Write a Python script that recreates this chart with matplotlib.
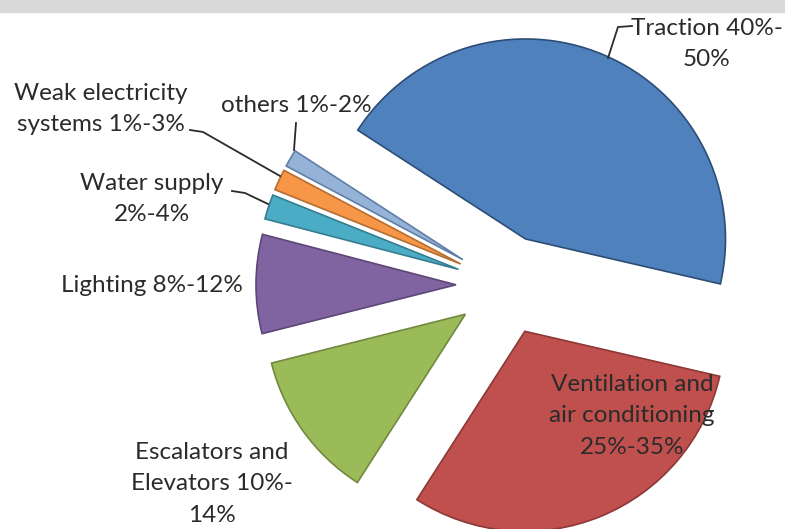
import matplotlib
matplotlib.use('Agg')
import matplotlib.pyplot as plt
from matplotlib.patches import Rectangle

labels = ['Traction 40%-\n50%', 'others 1%-2%', 'Weak electricity\nsystems 1%-3%',
          'Water supply\n2%-4%', 'Lighting 8%-12%', 'Escalators and\nElevators 10%-\n14%',
          'Ventilation and\nair conditioning\n25%-35%']
shares = [44.5, 1.4, 1.7, 2, 8, 12, 30.5]
colors = ['#4F81BD', '#95B3D7', '#F79646', '#4BACC6', '#8064A2', '#9BBB59', '#C0504D']
edges = ['#2C4D75', '#5F7FA8', '#B66D31', '#357D91', '#5C4776', '#71893F', '#8C3836']
explode = [0.25] * 7

cx, cy, R = 506, 285, 200
W, H = 785, 529

fig = plt.figure(figsize=(7.85, 5.29), dpi=100)
ax = fig.add_axes([0, 0, 1, 1])
wedges, _ = ax.pie(shares, colors=colors, explode=explode, startangle=-13,
                   counterclock=True, radius=1,
                   wedgeprops=dict(linewidth=1.2))
for w, ec in zip(wedges, edges):
    w.set_edgecolor(ec)
ax.set_xlim(-cx / R, (W - cx) / R)
ax.set_ylim(-(H - cy) / R, cy / R)
ax.set_aspect('auto')
ax.axis('off')

# faint grey band along the top edge
fig.patches.append(Rectangle((0, 1 - 12 / H), 1, 12 / H, transform=fig.transFigure,
                             color='#d9d9d9', zorder=0))


def p(x, y):
    return ((x - cx) / R, (cy - y) / R)


font = dict(family='Lato', fontsize=17.5, color='#2b2b2b', linespacing=1.6)
ax.text(*p(707, 44), labels[0], ha='center', va='center', **font)
ax.text(*p(296, 106), labels[1], ha='center', va='center', **font)
ax.text(*p(101, 109), labels[2], ha='center', va='center', **font)
ax.text(*p(152, 199), labels[3], ha='center', va='center', **font)
ax.text(*p(152, 285), labels[4], ha='center', va='center', **font)
ax.text(*p(212, 484), labels[5], ha='center', va='center', **font)
ax.text(*p(632, 416), labels[6], ha='center', va='center', **font)

# leader lines
line = dict(color='#2b2b2b', lw=1.3)
ax.plot(*zip(p(632, 26), p(618, 27), p(608, 58)), **line)
ax.plot(*zip(p(296, 123), p(294, 150)), **line)
ax.plot(*zip(p(190, 130), p(203, 132), p(280, 176)), **line)
ax.plot(*zip(p(232, 191), p(245, 193), p(268, 204)), **line)

fig.savefig('out.png', dpi=100)
